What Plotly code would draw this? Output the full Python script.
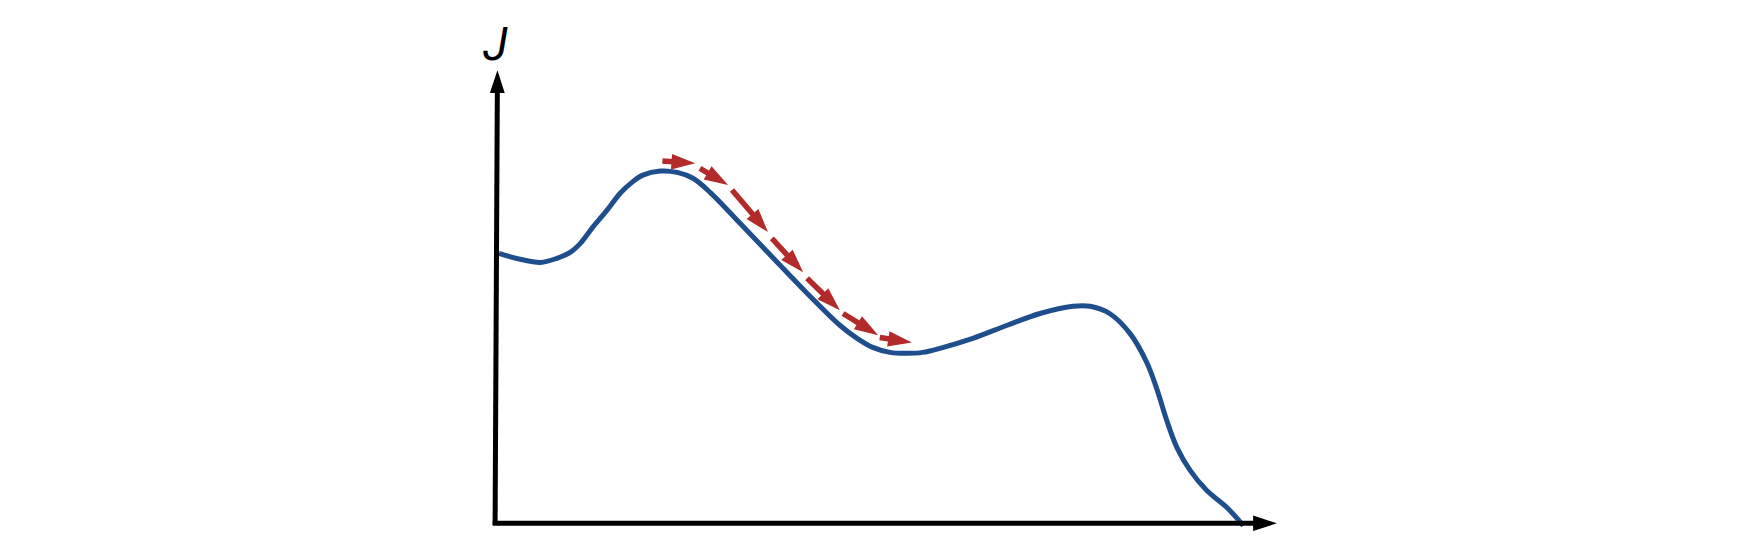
import plotly.graph_objects as go

# Cost curve J(theta) (data units)
curve_x = [0.05, 0.32, 0.58, 0.79, 0.96, 1.09, 1.25, 1.43, 1.60, 1.75, 1.89, 2.11, 2.33,
           2.53, 2.75, 3.13, 3.55, 3.99, 4.41, 4.63, 4.83, 5.05, 5.27, 5.47, 5.69, 6.11,
           6.55, 6.97, 7.39, 7.61, 7.86, 8.12, 8.34, 8.47, 8.59, 8.72, 8.89, 9.10, 9.36, 9.57]
curve_y = [5.95, 5.82, 5.75, 5.84, 5.97, 6.17, 6.53, 6.90, 7.28, 7.52, 7.68, 7.77, 7.74,
           7.61, 7.30, 6.62, 5.86, 5.07, 4.36, 4.07, 3.87, 3.76, 3.74, 3.76, 3.85, 4.07,
           4.36, 4.62, 4.78, 4.78, 4.62, 4.18, 3.52, 2.92, 2.26, 1.66, 1.15, 0.71, 0.33, -0.07]

# Gradient-descent steps (tail -> tip)
step_tail_x = [2.14, 2.62, 3.03, 3.54, 3.99, 4.45, 4.92]
step_tail_y = [7.99, 7.83, 7.35, 6.28, 5.40, 4.62, 4.09]
step_tip_x = [2.56, 2.98, 3.49, 3.94, 4.41, 4.90, 5.33]
step_tip_y = [7.94, 7.46, 6.42, 5.53, 4.69, 4.14, 3.98]

# Axis arrows (tail -> tip)
x_axis_x = [-0.03, 10.0]
x_axis_y = [-0.02, -0.02]
y_axis_x = [0.0, 0.03]
y_axis_y = [-0.06, 10.0]

axis_label = "J"
BLUE = "#1F4E8C"
RED = "#B22A2A"

fig = go.Figure()
fig.add_trace(go.Scatter(x=curve_x, y=curve_y, mode="lines",
                         line=dict(color=BLUE, width=5, shape="spline", smoothing=1.0),
                         hoverinfo="skip", showlegend=False))


def add_arrow(xs, ys, color, width, head):
    fig.add_trace(go.Scatter(
        x=xs, y=ys, mode="lines+markers", opacity=1,
        line=dict(color=color, width=width),
        marker=dict(symbol="arrow", size=[0, head], angleref="previous", color=color,
                    opacity=1, line=dict(width=0)),
        hoverinfo="skip", showlegend=False, cliponaxis=False))


for tx, ty, hx, hy in zip(step_tail_x, step_tail_y, step_tip_x, step_tip_y):
    add_arrow([tx, hx], [ty, hy], RED, 5.5, 25)

add_arrow(x_axis_x, x_axis_y, "black", 5, 25)
add_arrow(y_axis_x, y_axis_y, "black", 5, 24)

fig.add_annotation(x=0.01, y=10.58, xref="x", yref="y", text="<i>" + axis_label + "</i>",
                   showarrow=False, font=dict(family="Roboto", size=46, color="black"))

fig.update_layout(
    width=1748, height=560,
    margin=dict(l=448, r=440, t=17, b=23, pad=0),
    paper_bgcolor="white", plot_bgcolor="white",
    xaxis=dict(range=[-0.5, 10.5], visible=False, fixedrange=True),
    yaxis=dict(range=[-0.5, 11.0], visible=False, fixedrange=True),
    showlegend=False,
)

fig.write_html("out.html")
